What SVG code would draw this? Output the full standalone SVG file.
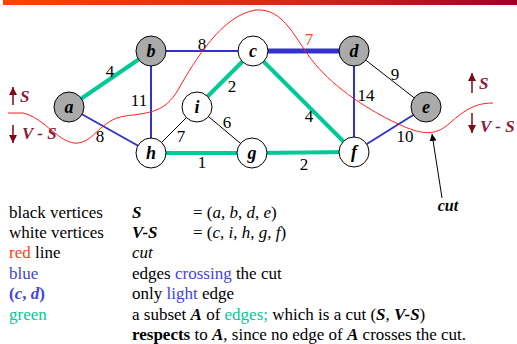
<svg xmlns="http://www.w3.org/2000/svg" width="517" height="344" viewBox="0 0 517 344">
<defs>
<linearGradient id="bar" x1="0" x2="1" y1="0" y2="0">
<stop offset="0" stop-color="#ff4200"/>
<stop offset="0.6" stop-color="#d02818"/>
<stop offset="1" stop-color="#a00028"/>
</linearGradient>
<marker id="ah" viewBox="0 0 10 10" refX="10" refY="5" markerWidth="7" markerHeight="7" orient="auto" markerUnits="userSpaceOnUse">
<path d="M0,0 L10,5 L0,10 z" fill="#000"/>
</marker>
<marker id="dr" viewBox="0 0 10 10" refX="10" refY="5" markerWidth="8" markerHeight="8" orient="auto" markerUnits="userSpaceOnUse">
<path d="M0,0 L10,5 L0,10 z" fill="#7a0a18"/>
</marker>
</defs>
<style>
text{font-family:'Liberation Serif','Times New Roman',Tinos,'DejaVu Serif',serif}
.blue{stroke:#3333cc;stroke-width:2;fill:none}
.green{stroke:#00c896;stroke-width:4;fill:none}
.thin{stroke:#000;stroke-width:1;fill:none}
.w{font-size:17px;fill:#000;text-anchor:middle}
.node circle{stroke:#000;stroke-width:1}
.s circle{fill:#aaaaaa}
.v circle{fill:#fff}
.nl{font-size:18px;font-style:italic;font-weight:bold;text-anchor:middle;fill:#000}
.lg{font-size:17px;fill:#000}
.sv{font-size:17px;font-style:italic;font-weight:bold;fill:#8b1a3a}
.cutl{font-size:16px;font-style:italic;font-weight:bold;text-anchor:middle;fill:#000}
</style>
<rect x="3" y="0" width="514" height="5" fill="url(#bar)"/>
<g id="connectors">
<line class="green" x1="69" y1="107" x2="151" y2="51"/>
<line class="blue" x1="69" y1="107" x2="151" y2="153"/>
<line class="blue" x1="151" y1="51" x2="253" y2="51"/>
<line class="blue" x1="151" y1="51" x2="151" y2="153"/>
<line class="green" x1="253" y1="51" x2="197" y2="107"/>
<line stroke="#3333cc" stroke-width="5" x1="253" y1="51" x2="354" y2="51"/>
<line class="green" x1="253" y1="51" x2="354" y2="152"/>
<line class="thin" x1="197" y1="107" x2="151" y2="153"/>
<line class="thin" x1="197" y1="107" x2="252" y2="153"/>
<line class="green" x1="151" y1="153" x2="252" y2="153"/>
<line class="green" x1="252" y1="153" x2="354" y2="152"/>
<line class="blue" x1="354" y1="51" x2="354" y2="152"/>
<line class="thin" x1="354" y1="51" x2="426" y2="107"/>
<line class="blue" x1="354" y1="152" x2="426" y2="107"/>
<text class="w" x="110" y="77">4</text>
<text class="w" x="100" y="142">8</text>
<text class="w" x="202" y="50">8</text>
<text class="w" x="139" y="106">11</text>
<text class="w" x="232" y="92">2</text>
<text class="w" x="309" y="45" style="fill:#ff4020">7</text>
<text class="w" x="309" y="122">4</text>
<text class="w" x="181" y="142">7</text>
<text class="w" x="227" y="128">6</text>
<text class="w" x="202" y="168">1</text>
<text class="w" x="304" y="170">2</text>
<text class="w" x="366" y="101">14</text>
<text class="w" x="395" y="80">9</text>
<text class="w" x="405" y="142">10</text>
<path d="M8,113 L23,113 C45,118 60,145 78,143 C95,141 100,120 125,116 C150,113 165,112 178,90 C195,60 222,15 256,10 C285,8 295,40 315,64 C335,88 370,112 405,127 C420,133 432,136 445,127 C460,115 470,103 493,103" fill="none" stroke="#ff2020" stroke-width="1"/>
<line x1="442" y1="198" x2="432" y2="134" stroke="#000" stroke-width="1" marker-end="url(#ah)"/>
</g>
<g id="a" class="node s"><circle cx="69" cy="107" r="15"/><text class="nl" x="69" y="113">a</text></g>
<g id="b" class="node s"><circle cx="151" cy="51" r="15"/><text class="nl" x="151" y="57">b</text></g>
<g id="c" class="node v"><circle cx="253" cy="51" r="15"/><text class="nl" x="253" y="57">c</text></g>
<g id="d" class="node s"><circle cx="354" cy="51" r="15"/><text class="nl" x="354" y="57">d</text></g>
<g id="e" class="node s"><circle cx="426" cy="107" r="15"/><text class="nl" x="426" y="113">e</text></g>
<g id="i" class="node v"><circle cx="197" cy="107" r="15"/><text class="nl" x="197" y="113">i</text></g>
<g id="h" class="node v"><circle cx="151" cy="153" r="15"/><text class="nl" x="151" y="159">h</text></g>
<g id="g" class="node v"><circle cx="252" cy="153" r="15"/><text class="nl" x="252" y="159">g</text></g>
<g id="f" class="node v"><circle cx="354" cy="152" r="15"/><text class="nl" x="354" y="158">f</text></g>
<g id="labels">
<line x1="13" y1="105" x2="13" y2="87" stroke="#7a0a18" stroke-width="1.5" marker-end="url(#dr)"/>
<text class="sv" x="20" y="102">S</text>
<line x1="13" y1="125" x2="13" y2="143" stroke="#7a0a18" stroke-width="1.5" marker-end="url(#dr)"/>
<text class="sv" x="22" y="139">V - S</text>
<line x1="472" y1="93" x2="472" y2="73" stroke="#7a0a18" stroke-width="1.5" marker-end="url(#dr)"/>
<text class="sv" x="479" y="89">S</text>
<line x1="472" y1="113" x2="472" y2="133" stroke="#7a0a18" stroke-width="1.5" marker-end="url(#dr)"/>
<text class="sv" x="480" y="132">V - S</text>
<text class="cutl" x="448" y="211">cut</text>
</g>
<g id="legend">
<text class="lg" x="9" y="218">black vertices</text>
<text class="lg" x="132" y="218" font-style="italic" font-weight="bold">S</text>
<text class="lg" x="193" y="218">= (<tspan font-style="italic">a</tspan>, <tspan font-style="italic">b</tspan>, <tspan font-style="italic">d</tspan>, <tspan font-style="italic">e</tspan>)</text>
<text class="lg" x="9" y="238">white vertices</text>
<text class="lg" x="132" y="238" font-style="italic" font-weight="bold">V-S</text>
<text class="lg" x="193" y="238">= (<tspan font-style="italic">c</tspan>, <tspan font-style="italic">i</tspan>, <tspan font-style="italic">h</tspan>, <tspan font-style="italic">g</tspan>, <tspan font-style="italic">f</tspan>)</text>
<text class="lg" x="9" y="258"><tspan style="fill:#ff4020">red</tspan> line</text>
<text class="lg" x="132" y="258" font-style="italic">cut</text>
<text class="lg" x="9" y="279" style="fill:#4444dd">blue</text>
<text class="lg" x="132" y="279">edges <tspan style="fill:#4444dd">crossing</tspan> the cut</text>
<text class="lg" x="9" y="299" style="fill:#4444dd" font-weight="bold">(<tspan font-style="italic">c</tspan>, <tspan font-style="italic">d</tspan>)</text>
<text class="lg" x="132" y="299">only <tspan style="fill:#4444dd">light</tspan> edge</text>
<text class="lg" x="9" y="320" style="fill:#00c896">green</text>
<text class="lg" x="132" y="320">a subset <tspan font-style="italic" font-weight="bold">A</tspan> of <tspan style="fill:#00c896">edges;</tspan> which is a cut (<tspan font-style="italic" font-weight="bold">S</tspan>,  <tspan font-style="italic" font-weight="bold">V-S</tspan>)</text>
<text class="lg" x="132" y="340"><tspan font-weight="bold">respects</tspan> to <tspan font-style="italic" font-weight="bold">A</tspan>, since no edge of <tspan font-style="italic" font-weight="bold">A</tspan> crosses the cut.</text>
</g>
</svg>
